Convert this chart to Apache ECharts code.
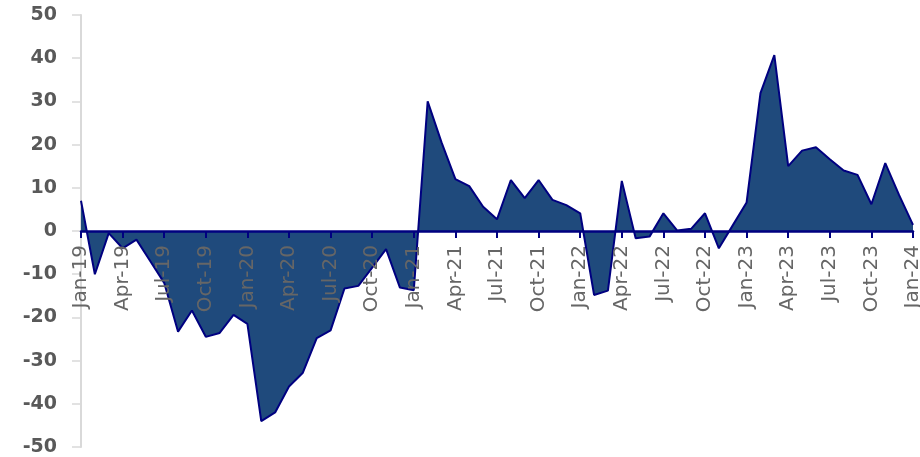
<!DOCTYPE html>
<html>
<head>
<meta charset="utf-8">
<script src="https://cdn.jsdelivr.net/npm/echarts@6/dist/echarts.min.js"></script>
<style>
  html, body { margin: 0; padding: 0; background: #fff; }
  #chart { width: 920px; height: 457px; }
</style>
</head>
<body>
<div id="chart"></div>
<script>
// months Jan-19 .. Jan-24
var years = ['19', '20', '21', '22', '23'];
var monthNames = ['Jan', 'Feb', 'Mar', 'Apr', 'May', 'Jun', 'Jul', 'Aug', 'Sep', 'Oct', 'Nov', 'Dec'];
var months = [];
years.forEach(function (y) {
  monthNames.forEach(function (m) { months.push(m + '-' + y); });
});
months.push('Jan-24');

var values = [
  7, -10, -0.5, -4, -2, -7, -12, -23.3, -18.4, -24.5, -23.6, -19.4,
  -21.5, -44, -42, -36, -32.8, -24.8, -23, -13.3, -12.7, -8.5, -4.2, -13.1,
  -13.7, 30, 20.5, 12, 10.4, 5.6, 2.7, 11.8, 7.6, 11.8, 7.2, 6,
  4.1, -14.8, -13.8, 11.6, -1.7, -1.3, 4.1, 0.1, 0.5, 4.1, -4, 1.3,
  6.6, 31.9, 40.7, 15, 18.6, 19.4, 16.6, 14, 13, 6.2, 15.7, 8.3,
  1.4
];

var yTicks = { min: -50, max: 50, step: 10 };

var gridTop = 15, gridBottom = 10, H = 457;
// distance from the bottom edge of the grid up to the zero line
var zeroOffset = (H - gridTop - gridBottom) * (0 - yTicks.min) / (yTicks.max - yTicks.min);

var myChart = echarts.init(document.getElementById('chart'));
myChart.setOption({
  animation: false,
  grid: { left: 81, right: 7, top: gridTop, bottom: gridBottom, containLabel: false, outerBoundsMode: 'none' },
  xAxis: {
    type: 'category',
    data: months,
    boundaryGap: false,
    position: 'bottom',
    offset: -zeroOffset,
    z: 5,
    axisLine: { onZero: false, lineStyle: { color: '#000080', width: 2.5 } },
    axisTick: { interval: 2, length: 7, lineStyle: { color: '#000080', width: 2 } },
    axisLabel: {
      interval: 2,
      rotate: 90,
      margin: 14,
      color: '#666666',
      fontFamily: 'DejaVu Sans',
      fontSize: 20
    },
    splitLine: { show: false }
  },
  yAxis: {
    type: 'value',
    min: yTicks.min,
    max: yTicks.max,
    interval: yTicks.step,
    axisLine: { show: true, lineStyle: { color: '#d9d9d9', width: 2 } },
    axisTick: { show: true, length: 9, lineStyle: { color: '#d9d9d9', width: 1.5 } },
    axisLabel: {
      margin: 24,
      color: '#595959',
      fontFamily: 'DejaVu Sans',
      fontWeight: 'bold',
      fontSize: 19
    },
    splitLine: { show: false }
  },
  series: [
    {
      type: 'line',
      data: values,
      symbol: 'none',
      lineStyle: { color: '#000080', width: 2 },
      areaStyle: { color: '#1f4a7c', opacity: 1 }
    }
  ]
});
</script>
</body>
</html>
